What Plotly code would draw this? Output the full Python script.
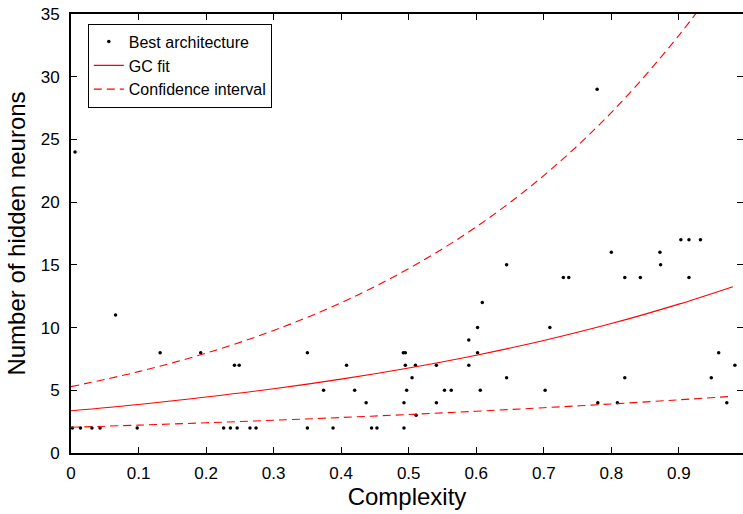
import plotly.graph_objects as go

# Best architecture points (complexity, hidden neurons)
complexity = [0.002, 0.014, 0.031, 0.043, 0.098, 0.226, 0.236, 0.246, 0.265, 0.274,
              0.350, 0.388, 0.445, 0.453, 0.493,
              0.006, 0.066,
              0.132, 0.192, 0.350, 0.492, 0.495, 0.602,
              0.242, 0.249, 0.408, 0.495, 0.510, 0.541, 0.589,
              0.589, 0.602, 0.609,
              0.645, 0.505, 0.820, 0.948,
              0.374, 0.420, 0.497, 0.553, 0.563, 0.606, 0.702,
              0.437, 0.493, 0.541, 0.780, 0.809, 0.971,
              0.511,
              0.645, 0.873,
              0.709,
              0.729, 0.737, 0.820, 0.843, 0.915,
              0.800, 0.872,
              0.903, 0.915, 0.932,
              0.959, 0.983, 0.779]
neurons = [2, 2, 2, 2, 2, 2, 2, 2, 2, 2,
           2, 2, 2, 2, 2,
           24, 11,
           8, 8, 8, 8, 8, 8,
           7, 7, 7, 7, 7, 7, 7,
           9, 10, 12,
           6, 6, 6, 6,
           5, 5, 5, 5, 5, 5, 5,
           4, 4, 4, 4, 4, 4,
           3,
           15, 15,
           10,
           14, 14, 14, 14, 14,
           16, 16,
           17, 17, 17,
           8, 7, 29]

# Fitted curve and confidence band
curve_x = [0.0, 0.1, 0.2, 0.3, 0.4, 0.5, 0.6, 0.7, 0.8, 0.9, 0.98]
gc_fit = [3.37, 3.87, 4.46, 5.12, 5.89, 6.78, 7.80, 8.97, 10.32, 11.87, 13.26]
ci_upper = [5.29, 6.49, 7.96, 9.77, 11.98, 14.70, 18.03, 22.12, 27.14, 33.29, 39.06]
ci_lower = [2.05, 2.22, 2.41, 2.61, 2.83, 3.07, 3.33, 3.61, 3.91, 4.24, 4.52]

x_ticks = [0, 0.1, 0.2, 0.3, 0.4, 0.5, 0.6, 0.7, 0.8, 0.9]
x_tick_labels = ["0", "0.1", "0.2", "0.3", "0.4", "0.5", "0.6", "0.7", "0.8", "0.9"]
y_ticks = [0, 5, 10, 15, 20, 25, 30, 35]

RED = "#ff0000"
DASH = "8px,5px"

fig = go.Figure()
fig.add_trace(go.Scatter(x=complexity, y=neurons, mode="markers",
                         marker=dict(color="black", size=3.5),
                         name="Best architecture", cliponaxis=False))
fig.add_trace(go.Scatter(x=curve_x, y=gc_fit, mode="lines",
                         line=dict(color=RED, width=1.1, shape="spline"),
                         name="GC fit"))
fig.add_trace(go.Scatter(x=curve_x, y=ci_upper, mode="lines",
                         line=dict(color=RED, width=1.1, dash=DASH, shape="spline"),
                         name="Confidence interval", legendgroup="ci"))
fig.add_trace(go.Scatter(x=curve_x, y=ci_lower, mode="lines",
                         line=dict(color=RED, width=1.1, dash=DASH, shape="spline"),
                         name="Confidence interval", legendgroup="ci", showlegend=False))

font_family = "Liberation Sans, Arial, Helvetica, sans-serif"

fig.update_layout(
    width=743, height=514,
    margin=dict(l=71, r=0, t=14, b=61),
    paper_bgcolor="white", plot_bgcolor="white",
    font=dict(family=font_family, color="black", size=17),
    showlegend=True,
    legend=dict(x=0.025, y=0.978, xanchor="left", yanchor="top",
                bgcolor="white", bordercolor="black", borderwidth=1,
                font=dict(size=16, family=font_family), tracegroupgap=0),
    xaxis=dict(range=[0, 0.995], tickvals=x_ticks, ticktext=x_tick_labels,
               ticks="inside", ticklen=6, tickwidth=1, tickcolor="black",
               showline=True, linecolor="black", linewidth=2, mirror="ticks",
               showgrid=False, zeroline=False, ticklabelstandoff=4,
               automargin=False,
               title=dict(text="Complexity", font=dict(size=24), standoff=6)),
    yaxis=dict(range=[0, 35], tickvals=y_ticks,
               ticks="inside", ticklen=6, tickwidth=1, tickcolor="black",
               showline=True, linecolor="black", linewidth=2, mirror="ticks",
               showgrid=False, zeroline=False, ticklabelstandoff=6,
               automargin=False,
               title=dict(text="Number of hidden neurons", font=dict(size=24), standoff=8)),
)

fig.write_html("out.html",
               config={"displayModeBar": False},
               post_script="document.body.style.margin='0';document.body.style.padding='0';")
